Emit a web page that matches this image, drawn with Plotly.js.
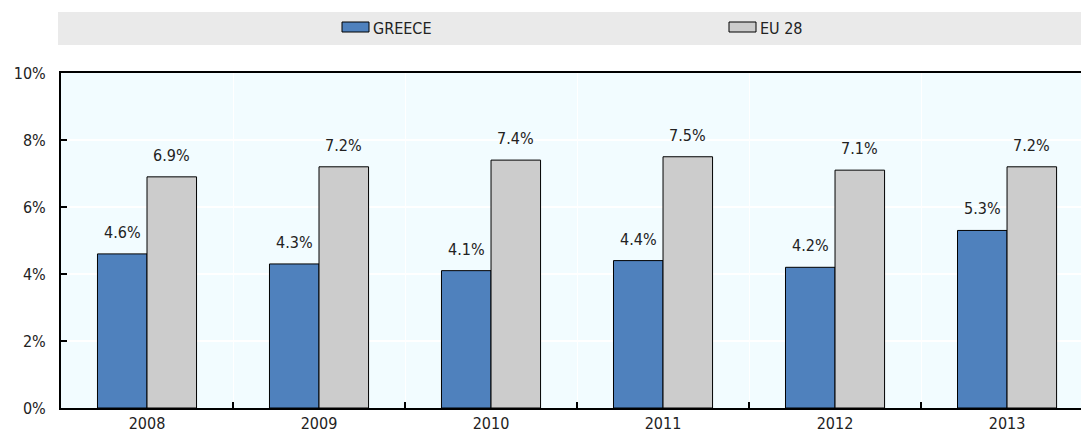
<!DOCTYPE html>
<html>
<head>
<meta charset="utf-8">
<script src="https://cdn.plot.ly/plotly-3.0.1.min.js"></script>
<style>html,body{margin:0;padding:0;background:#fff;}#chart{width:1081px;height:432px;}</style>
</head>
<body>
<div id="chart"></div>
<script>
const years = ["2008", "2009", "2010", "2011", "2012", "2013"];
const greece = [4.6, 4.3, 4.1, 4.4, 4.2, 5.3];
const eu28 = [6.9, 7.2, 7.4, 7.5, 7.1, 7.2];
const seriesNames = ["GREECE", "EU 28"];
const seriesColors = ["#4F81BD", "#CCCCCC"];
const yTicks = [0, 2, 4, 6, 8, 10];

const FONT = "'Liberation Sans Narrow', 'Arial Narrow', 'DejaVu Sans Condensed', sans-serif";
const TXT = "#222222";

const traces = [greece, eu28].map((vals, i) => ({
  type: "bar",
  name: seriesNames[i],
  x: years,
  y: vals,
  marker: {color: seriesColors[i], line: {color: "#000000", width: 1}},
  showlegend: false,
  hoverinfo: "x+y"
}));

const annotations = [];
[greece, eu28].forEach((vals, i) => {
  vals.forEach((v, j) => {
    annotations.push({
      x: j, y: v, xref: "x", yref: "y",
      text: v.toFixed(1) + "%",
      showarrow: false, yanchor: "bottom", xanchor: "center",
      xshift: i === 0 ? -25 : 24.5, yshift: 10,
      font: {family: FONT, size: 16, color: TXT}
    });
  });
});

// legend (custom, in a grey band); plot area spans x 61..1081, y 73..408
const shapes = [{
  type: "rect", xref: "paper", yref: "paper",
  x0: (58 - 61) / 1020, x1: 1,
  y0: (408 - 45) / 335, y1: (408 - 12) / 335,
  fillcolor: "#EAEAEA", line: {width: 0}, layer: "below"
}];
const legendPos = [342, 729];
seriesNames.forEach((n, i) => {
  const px = legendPos[i];
  shapes.push({
    type: "rect", xref: "paper", yref: "paper",
    x0: (px - 61) / 1020, x1: (px + 27 - 61) / 1020,
    y0: (408 - 32) / 335, y1: (408 - 22) / 335,
    fillcolor: seriesColors[i], line: {color: "#000000", width: 1}
  });
  annotations.push({
    xref: "paper", yref: "paper",
    x: (px + 29 - 61) / 1020, y: (408 - 28) / 335,
    xanchor: "left", yanchor: "middle", showarrow: false,
    text: n, font: {family: FONT, size: 16, color: TXT}
  });
});

const layout = {
  width: 1081, height: 432,
  margin: {l: 61, r: 0, t: 73, b: 24, pad: 0},
  paper_bgcolor: "#FFFFFF",
  plot_bgcolor: "#F2FCFF",
  barmode: "group",
  bargap: 0.424,
  bargroupgap: 0,
  font: {family: FONT, size: 16, color: TXT},
  xaxis: {
    type: "category",
    range: [-0.5, 5.43],
    tickson: "boundaries",
    ticks: "inside", ticklen: 6, tickwidth: 1.5, tickcolor: "#000000",
    showgrid: true, gridcolor: "#FFFFFF", gridwidth: 1,
    showline: true, linecolor: "#000000", linewidth: 2, mirror: true,
    tickfont: {family: FONT, size: 16, color: TXT},
    automargin: false
  },
  yaxis: {
    range: [0, 10],
    tickvals: yTicks,
    ticktext: yTicks.map(v => v + "%"),
    ticks: "inside", ticklen: 6, tickwidth: 1.5, tickcolor: "#000000",
    showgrid: true, gridcolor: "#FFFFFF", gridwidth: 1.5,
    showline: true, linecolor: "#000000", linewidth: 2,
    zeroline: false,
    ticklabelstandoff: 10,
    tickfont: {family: FONT, size: 16, color: TXT},
    automargin: false
  },
  shapes: shapes,
  annotations: annotations
};

Plotly.newPlot("chart", traces, layout, {displayModeBar: false, staticPlot: true});
</script>
</body>
</html>
